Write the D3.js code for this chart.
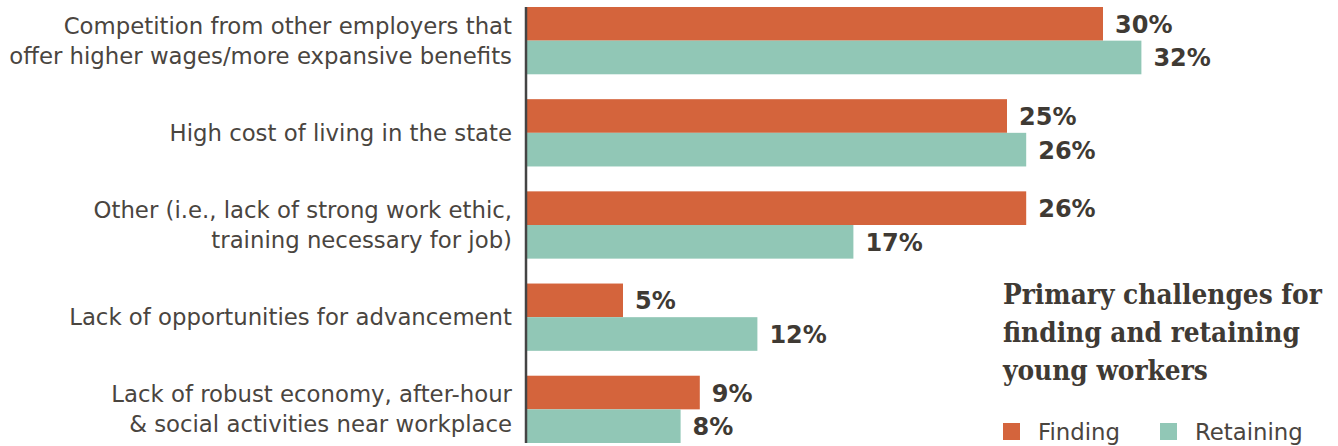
<!DOCTYPE html>
<html lang="en">
<head>
  <meta charset="utf-8">
  <title>Primary challenges for finding and retaining young workers</title>
  <script src="https://d3js.org/d3.v7.min.js"></script>
  <style>
    body { margin: 0; background: #fff; }
    .cat { font-family: "DejaVu Sans", sans-serif; font-size: 22.8px; fill: #4a453f; }
    .val { font-family: "DejaVu Sans", sans-serif; font-weight: bold; font-size: 24px; fill: #3f3a34; }
    .title { font-family: "DejaVu Serif", serif; font-weight: bold; font-stretch: condensed; font-size: 27px; fill: #3f3a34; }
    .leg { font-family: "DejaVu Sans", sans-serif; font-size: 22.8px; fill: #4a453f; }
  </style>
</head>
<body>
  <script>
    var width = 1338;
    var height = 446;

    // data
    var categories = [
      ["Competition from other employers that", "offer higher wages/more expansive benefits"],
      ["High cost of living in the state"],
      ["Other (i.e., lack of strong work ethic,", "training necessary for job)"],
      ["Lack of opportunities for advancement"],
      ["Lack of robust economy, after-hour", "& social activities near workplace"]
    ];
    var seriesNames = ["Finding", "Retaining"];
    var finding   = [30, 25, 26, 5, 9];
    var retaining = [32, 26, 17, 12, 8];
    var titleLines = ["Primary challenges for", "finding and retaining", "young workers"];
    var colors = ["#d4643c", "#91c7b6"];

    var svg = d3.select("body").append("svg")
      .attr("width", width)
      .attr("height", height);

    var y = d3.scaleBand()
      .domain(d3.range(categories.length))
      .range([7, 443])
      .paddingInner(0.27)
      .paddingOuter(0);

    var ySub = d3.scaleBand()
      .domain(seriesNames)
      .range([0, y.bandwidth()]);

    var x = d3.scaleLinear()
      .domain([0, 32])
      .range([527, 527 + 32 * 19.2]);

    var color = d3.scaleOrdinal().domain(seriesNames).range(colors);

    var rows = categories.map(function(c, i) {
      return { i: i, lines: c, values: [
        { s: "Finding", v: finding[i] },
        { s: "Retaining", v: retaining[i] }
      ]};
    });

    var groups = svg.selectAll("g.row")
      .data(rows)
      .enter().append("g")
      .attr("class", "row")
      .attr("transform", function(d) { return "translate(0," + y(d.i) + ")"; });

    groups.selectAll("rect")
      .data(function(d) { return d.values; })
      .enter().append("rect")
      .attr("x", x(0))
      .attr("y", function(d) { return ySub(d.s); })
      .attr("width", function(d) { return x(d.v) - x(0); })
      .attr("height", ySub.bandwidth())
      .attr("fill", function(d) { return color(d.s); });

    groups.selectAll("text.val")
      .data(function(d) { return d.values; })
      .enter().append("text")
      .attr("class", "val")
      .attr("x", function(d) { return x(d.v) + 12; })
      .attr("y", function(d) { return ySub(d.s) + ySub.bandwidth() / 2 + 9; })
      .text(function(d) { return d.v + "%"; });

    // category labels, right aligned next to the axis
    groups.append("text")
      .attr("class", "cat")
      .attr("text-anchor", "end")
      .attr("y", function(d) { return y.bandwidth() / 2 + 8 - (d.lines.length - 1) * 15; })
      .selectAll("tspan")
      .data(function(d) { return d.lines; })
      .enter().append("tspan")
      .attr("x", 512)
      .attr("dy", function(d, i) { return i ? 30 : 0; })
      .text(function(d) { return d; });

    // axis line
    svg.append("line")
      .attr("x1", x(0) - 1).attr("x2", x(0) - 1)
      .attr("y1", 7).attr("y2", 443)
      .attr("stroke", "#444")
      .attr("stroke-width", 2.5);

    // title, sized so the first line fits the space on the right
    var title = svg.append("text")
      .attr("class", "title");
    title.selectAll("tspan")
      .data(titleLines)
      .enter().append("tspan")
      .attr("x", 1003)
      .attr("y", function(d, i) { return 304 + i * 38; })
      .text(function(d) { return d; });
    var w0 = title.select("tspan").node().getComputedTextLength();
    title.style("font-size", (27 * 319 / w0) + "px");

    // legend
    var leg = svg.selectAll("g.leg")
      .data(seriesNames)
      .enter().append("g")
      .attr("class", "leg")
      .attr("transform", function(d, i) { return "translate(" + (1003 + i * 157) + ",423)"; });

    leg.append("rect")
      .attr("width", 17).attr("height", 17)
      .attr("fill", function(d) { return color(d); });

    leg.append("text")
      .attr("class", "leg")
      .attr("x", 35).attr("y", 17)
      .text(function(d) { return d; });
  </script>
</body>
</html>
